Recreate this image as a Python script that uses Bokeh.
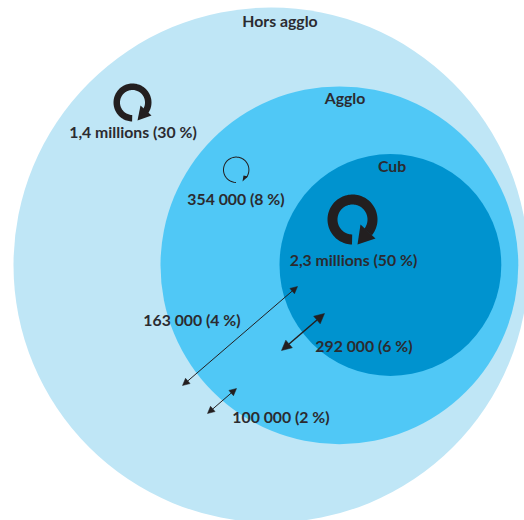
import numpy as np
from bokeh.plotting import figure
from bokeh.models import Range1d, Arrow, NormalHead
from bokeh.core.properties import value
from bokeh.embed import file_html
from bokeh.resources import INLINE

zones = ["Hors agglo", "Agglo", "Cub"]
zone_r = [257.5, 178.9, 110.9]
zone_x = [270.5, 338.9, 389.9]
zone_y = [264.5, 264.8, 264.5]
zone_colors = ["#BFE6F6", "#50C8F6", "#0093CF"]
zone_lx = [279.5, 344.5, 391.5]
zone_ly = [19.5, 96.5, 164.5]

flow_labels = ["1,4 millions (30 %)", "354 000 (8 %)", "2,3 millions (50 %)"]
flow_lx = [132.5, 235.5, 353]
flow_ly = [131, 198, 259]

link_labels = ["163 000 (4 %)", "292 000 (6 %)", "100 000 (2 %)"]
link_lx = [191.5, 363.5, 280.5]
link_ly = [319, 345, 416]
link_x0 = [182, 281, 207]
link_y0 = [385, 350, 413]
link_x1 = [297, 324, 236]
link_y1 = [286, 313, 388]
link_w = [1, 1.5, 1]
link_head = [7, 10, 7]

DARK = "#231F20"
TEXT = "#2B2B30"
FONT = value("Lato")

p = figure(width=524, height=520, output_backend="svg", toolbar_location=None,
           x_range=Range1d(0, 524), y_range=Range1d(520, 0),
           min_border=0, outline_line_color=None)
p.axis.visible = False
p.grid.visible = False
p.background_fill_color = "white"
p.border_fill_color = "white"

p.circle(zone_x, zone_y, radius=zone_r, fill_color=zone_colors, line_color=None)

icon_cx = [132, 235.7, 352]
icon_cy = [102, 169.3, 219]
icon_ri = [12.5, 12.2, 15]
icon_ro = [19, 13.2, 25]
heads_x = [[137, 140, 151], [242, 243, 247.5], [357, 360, 375]]
heads_y = [[120, 105, 115], [181, 175, 176], [244, 224, 238]]

for cx, cy, ri, ro, hx, hy in zip(icon_cx, icon_cy, icon_ri, icon_ro, heads_x, heads_y):
    start = np.pi / 2 + 0.02          # bottom of the ring (screen angle, y down)
    stop = start + 2 * np.pi * 0.855
    t = np.linspace(start, stop, 90)
    xs = np.r_[cx + ro * np.cos(t), cx + ri * np.cos(t[::-1])]
    ys = np.r_[cy + ro * np.sin(t), cy + ri * np.sin(t[::-1])]
    p.patch(xs, ys, fill_color=DARK, line_color=None)
    p.patch(hx, hy, fill_color=DARK, line_color=None)

for x0, y0, x1, y1, w, h in zip(link_x0, link_y0, link_x1, link_y1, link_w, link_head):
    p.add_layout(Arrow(
        x_start=x0, y_start=y0, x_end=x1, y_end=y1, line_color=DARK, line_width=w,
        start=NormalHead(size=h, fill_color=DARK, line_color=DARK, line_width=0.5),
        end=NormalHead(size=h, fill_color=DARK, line_color=DARK, line_width=0.5)))

for xs, ys, txt in [(zone_lx, zone_ly, zones), (flow_lx, flow_ly, flow_labels), (link_lx, link_ly, link_labels)]:
    p.text(xs, ys, text=txt, text_font=FONT, text_font_size="15.8px", text_font_style="bold",
           text_color=TEXT, text_align="center", text_baseline="middle")

open("out.html", "w").write(file_html(p, INLINE))
